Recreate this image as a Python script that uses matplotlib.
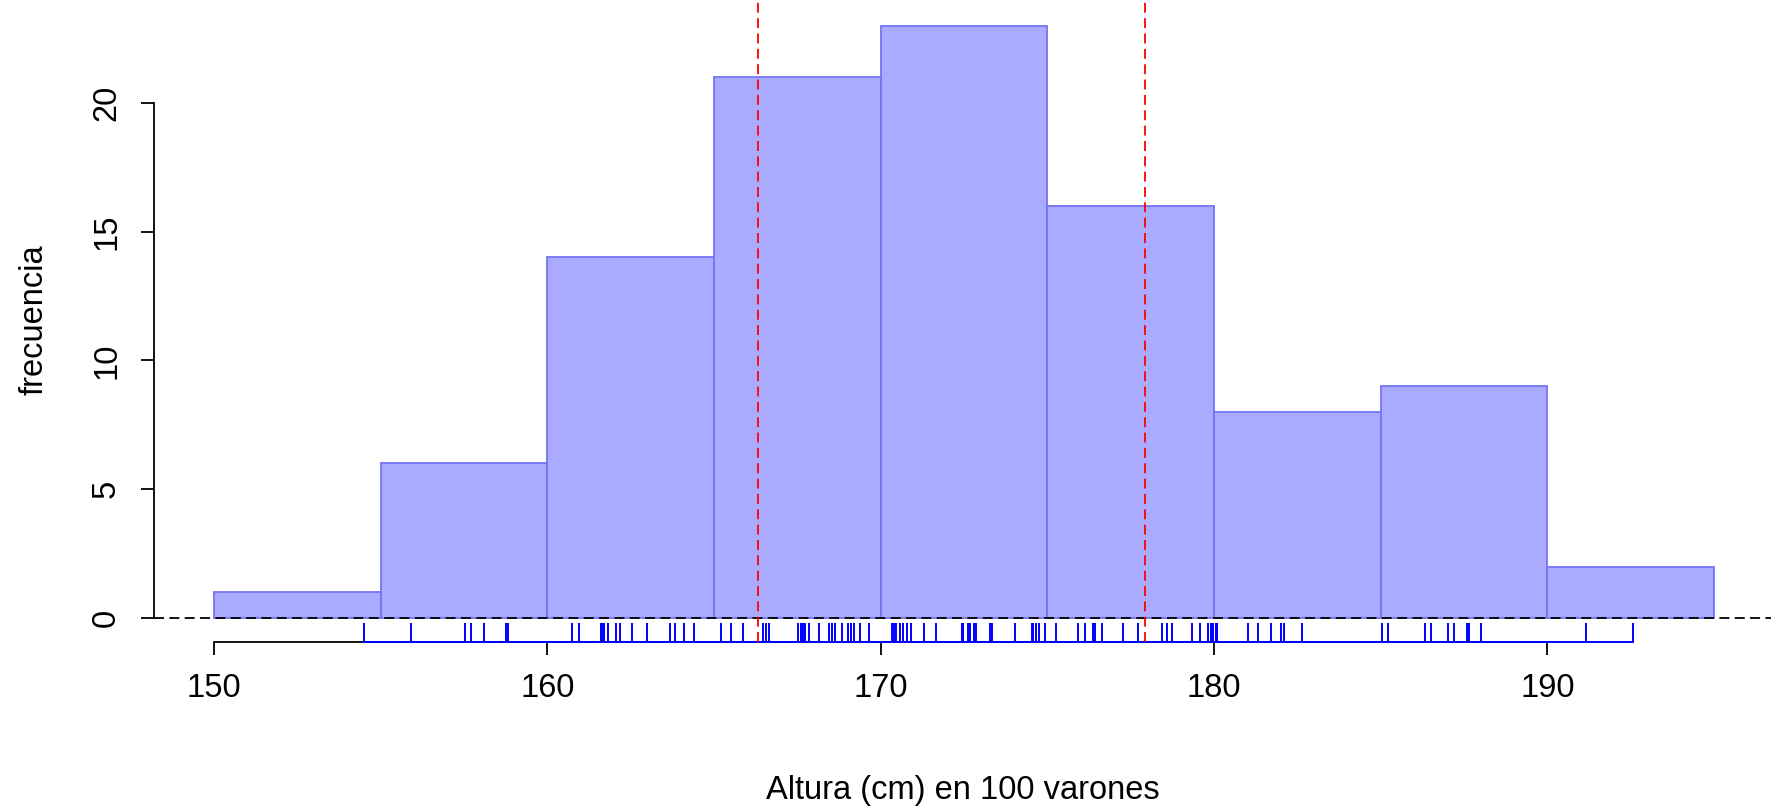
import numpy as np
import matplotlib
matplotlib.use("Agg")
import matplotlib.pyplot as plt
from matplotlib.transforms import blended_transform_factory

plt.rcParams['font.family'] = ['Liberation Sans', 'DejaVu Sans']

# Alturas (cm) de 100 varones
alturas = [
    154.50,
    155.92, 157.53, 157.71, 158.09, 158.76, 158.83,
    160.75, 160.94, 161.61, 161.65, 161.70, 161.81, 162.05, 162.18, 162.55,
    162.98, 163.68, 163.84, 164.10, 164.41,
    165.22, 165.51, 165.88, 166.48, 166.55, 166.65, 167.53, 167.60, 167.68,
    167.73, 167.84, 168.16, 168.46, 168.53, 168.63, 168.83, 169.03, 169.11,
    169.21, 169.38, 169.66,
    170.33, 170.40, 170.47, 170.58, 170.68, 170.80, 170.90, 171.31, 171.66,
    172.43, 172.48, 172.63, 172.68, 172.80, 172.86, 173.28, 173.33, 174.03,
    174.53, 174.58, 174.66, 174.76, 174.93,
    175.25, 175.92, 176.13, 176.38, 176.43, 176.63, 177.26, 177.73, 178.43,
    178.58, 178.73, 179.35, 179.58, 179.81, 179.90, 179.98,
    180.05, 180.08, 181.03, 181.33, 181.70, 182.00, 182.11, 182.63,
    185.03, 185.21, 186.33, 186.51, 187.01, 187.20, 187.60, 187.66, 188.00,
    191.15, 192.56,
]
cortes = [150, 155, 160, 165, 170, 175, 180, 185, 190, 195]
lineas_ref = [166.31, 177.93]
ticks_x = [150, 160, 170, 180, 190]
ticks_y = [0, 5, 10, 15, 20]

W, H = 1771, 809
fig = plt.figure(figsize=(W / 100, H / 100), dpi=100)

# plot region in pixels
px_left, px_right = 154.0, 1774.0
px_top, px_bottom = 2.0, 641.7
ax = fig.add_axes([px_left / W, 1 - px_bottom / H,
                   (px_right - px_left) / W, (px_bottom - px_top) / H])
ax.set_xlim(148.2, 196.8)
ax.set_ylim(-0.92, 23.92)

ax.hist(alturas, bins=cortes, color='#AAAAFF', edgecolor='#7474F2',
        linewidth=1.3, zorder=1)

# reference lines
dash = (0, (5.5, 3.0))
ax.axhline(0, color='black', lw=1.3, ls=dash, zorder=2)
for v in lineas_ref:
    ax.axvline(v, color='#FF0000', lw=1.3, ls=dash, zorder=4)

# axes
for s in ['top', 'right']:
    ax.spines[s].set_visible(False)
ax.spines['left'].set_bounds(ticks_y[0], ticks_y[-1])
ax.spines['bottom'].set_bounds(ticks_x[0], ticks_x[-1])
for s in ['left', 'bottom']:
    ax.spines[s].set_linewidth(1.3)
ax.set_xticks(ticks_x)
ax.set_yticks(ticks_y)
ax.set_yticklabels([str(t) for t in ticks_y], rotation=90, va='center')
ax.tick_params(axis='both', direction='out', length=9.5, width=1.3,
               labelsize=23.5)
ax.tick_params(axis='x', pad=13)
ax.tick_params(axis='y', pad=13.5)

# rug
tr = blended_transform_factory(ax.transData, ax.transAxes)
ax.vlines(alturas, 0, 0.03, transform=tr, color='#0000FF', lw=1.4,
          zorder=3, clip_on=False)
ax.plot([min(alturas), max(alturas)], [0, 0], transform=tr,
        color='#0000FF', lw=1.4, zorder=3, clip_on=False)

fig.text(34 / W, 1 - 320 / H, 'frecuencia', rotation=90,
         ha='center', va='center', fontsize=23.5)
fig.text(963 / W, 1 - 791 / H, 'Altura (cm) en 100 varones',
         ha='center', va='center', fontsize=23.5)

fig.savefig('out.png', dpi=100)
